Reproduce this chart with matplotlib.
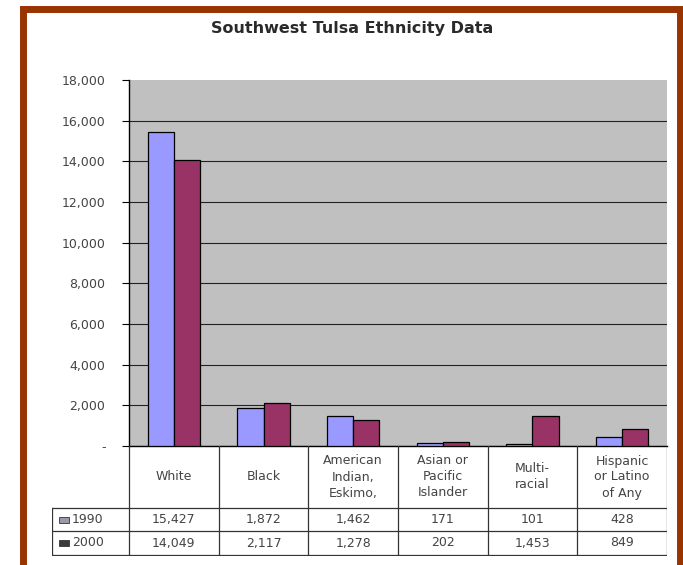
import matplotlib.pyplot as plt
from matplotlib.patches import Rectangle

categories = ["White", "Black", "American\nIndian,\nEskimo,", "Asian or\nPacific\nIslander",
              "Multi-\nracial", "Hispanic\nor Latino\nof Any"]
series_names = ["1990", "2000"]
values_1990 = [15427, 1872, 1462, 171, 101, 428]
values_2000 = [14049, 2117, 1278, 202, 1453, 849]
y_ticks = [0, 2000, 4000, 6000, 8000, 10000, 12000, 14000, 16000, 18000]
y_tick_labels = ["-", "2,000", "4,000", "6,000", "8,000", "10,000", "12,000",
                 "14,000", "16,000", "18,000"]

W, H = 683, 565
col_1990 = "#9999FF"
col_2000 = "#993366"
text_col = "#444444"

plt.rcParams['font.family'] = ['DejaVu Sans']

fig = plt.figure(figsize=(W / 100, H / 100), dpi=100)


def px_box(x0, y0, x1, y1):
    # pixel box (top-left origin) -> figure fraction [l, b, w, h]
    return [x0 / W, 1 - y1 / H, (x1 - x0) / W, (y1 - y0) / H]


# outer brown frame
fig.patches.append(Rectangle((22.5 / W, -0.05), (680 - 22.5) / W, 1.05 - 8.5 / H,
                             transform=fig.transFigure, fill=False,
                             edgecolor="#993300", linewidth=5.0))

fig.text(352 / W, 1 - 29 / H, "Southwest Tulsa Ethnicity Data", ha="center", va="center",
         fontsize=11.5, fontweight="bold", color="#2a2a2a")

# main chart
ax = fig.add_axes(px_box(129, 80, 667, 446))
ax.set_facecolor("#C0C0C0")
x = list(range(len(categories)))
bw = 0.29
ax.bar([i - bw / 2 for i in x], values_1990, width=bw, color=col_1990,
       edgecolor="black", linewidth=0.9, zorder=3)
ax.bar([i + bw / 2 for i in x], values_2000, width=bw, color=col_2000,
       edgecolor="black", linewidth=0.9, zorder=3)
ax.set_xlim(-0.5, len(categories) - 0.5)
ax.set_ylim(0, 18000)
ax.set_yticks(y_ticks)
ax.set_yticklabels(y_tick_labels)
ax.tick_params(axis="y", direction="out", length=5, width=0.8, colors="black",
               labelcolor=text_col, labelsize=9, pad=12)
ax.set_xticks([])
ax.yaxis.grid(True, color="#222222", linewidth=0.8, zorder=1)
ax.yaxis.get_gridlines()[-1].set_visible(False)
for side in ["top", "right"]:
    ax.spines[side].set_visible(False)
ax.spines["left"].set_linewidth(1.0)
ax.spines["bottom"].set_linewidth(1.0)

# data table under the chart
tab = fig.add_axes(px_box(52, 446, 667, 556))
label_w = (129 - 52) / ((667 - 129) / len(categories))
tab.set_xlim(-0.5 - label_w, len(categories) - 0.5)
tab.set_ylim(110, 0)
tab.axis("off")
row_y = [0, 62, 85, 109]
lc = "#333333"
# vertical lines between categories
for i in range(len(categories) + 1):
    tab.plot([i - 0.5, i - 0.5], [row_y[0], row_y[3]], color=lc, lw=0.9)
tab.plot([-0.5 - label_w, -0.5 - label_w], [row_y[1], row_y[3]], color=lc, lw=0.9)
for yy in row_y[1:]:
    tab.plot([-0.5 - label_w, len(categories) - 0.5], [yy, yy], color=lc, lw=0.9)
for i, cat in enumerate(categories):
    tab.text(i, (row_y[0] + row_y[1]) / 2, cat, ha="center", va="center",
             fontsize=9, color=text_col, linespacing=1.3)
key_fill = ["#9a9aa8", "#3a3a3a"]
for r, (name, vals) in enumerate([(series_names[0], values_1990),
                                  (series_names[1], values_2000)]):
    yc = (row_y[r + 1] + row_y[r + 2]) / 2
    for i, v in enumerate(vals):
        tab.text(i, yc, f"{v:,}", ha="center", va="center", fontsize=9, color=text_col)
    kx = -0.5 - label_w + 0.08
    tab.add_patch(Rectangle((kx, yc - 3), 0.11, 6, facecolor=key_fill[r],
                            edgecolor="#333333", linewidth=0.6))
    tab.text(kx + 0.14, yc, name, ha="left", va="center", fontsize=9, color=text_col)

fig.savefig("out.png", dpi=100)
